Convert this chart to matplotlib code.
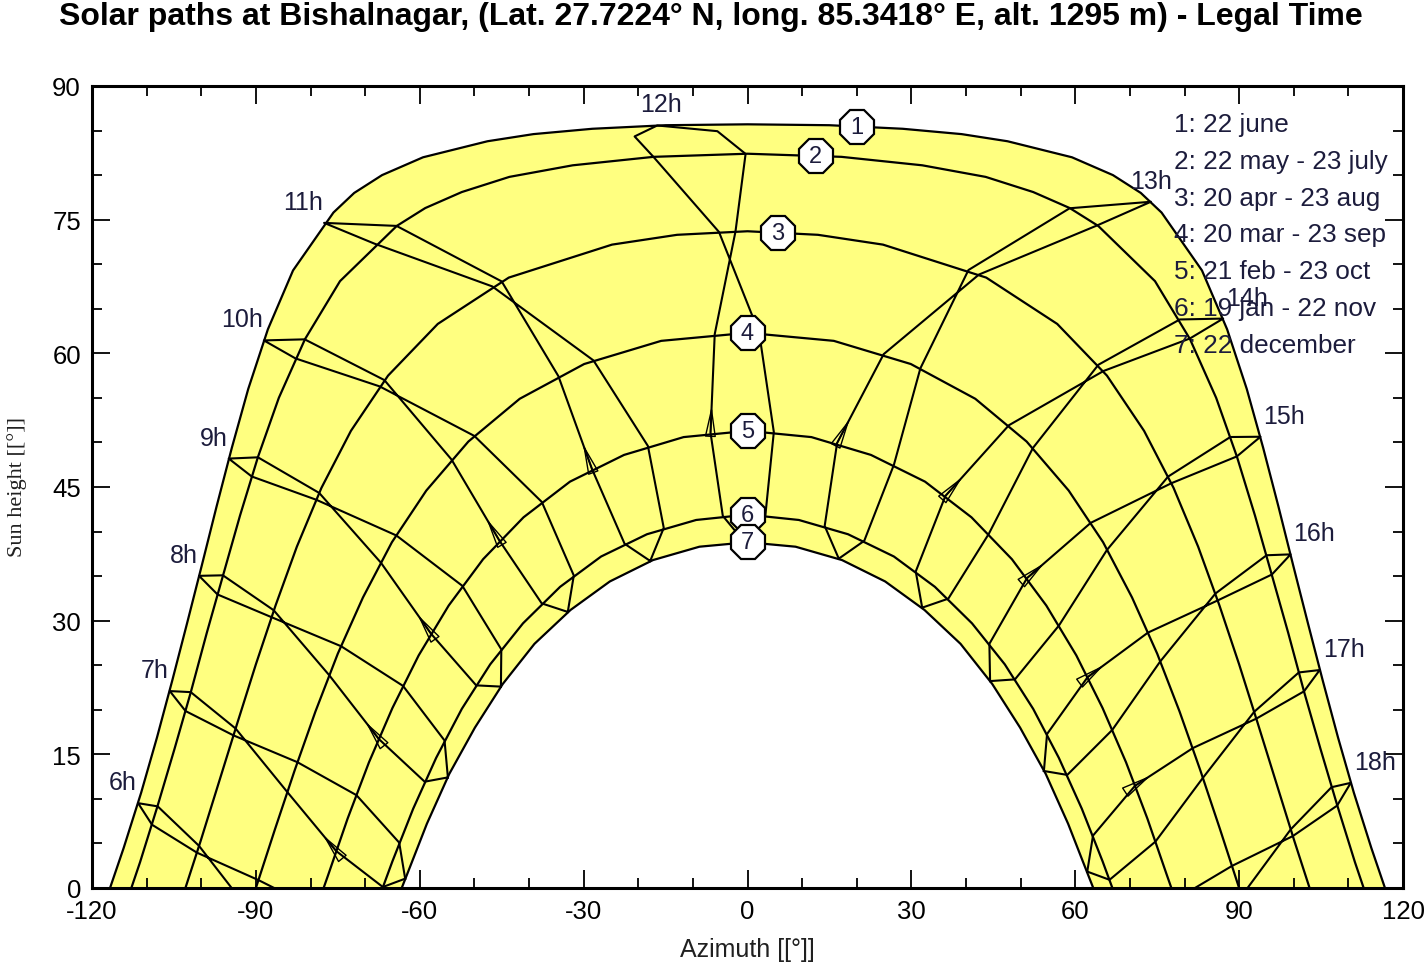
import matplotlib
matplotlib.use("Agg")
import matplotlib.pyplot as plt
import numpy as np
from matplotlib.ticker import MultipleLocator

# ---- date curves: azimuth [deg] / sun height [deg] ----
c1_az = [-116.7, -114.2, -111.0, -108.1, -105.3, -102.6, -99.9, -97.2, -94.4, -91.4, -87.8, -83.2, -75.8, -72.0, -66.9,
         -59.4, -47.6, -39.2, -28.4, -15.0, 0.0, 15.0, 28.4, 39.2, 47.6, 59.4, 66.9, 72.0, 75.8, 83.2, 87.8, 91.4, 94.4,
         97.2, 99.9, 102.6, 105.3, 108.1, 111.0, 114.2, 116.7]
c1_h = [0.0, 4.5, 10.7, 16.9, 23.3, 29.7, 36.2, 42.8, 49.4, 56.0, 62.7, 69.3, 75.8, 78.0, 80.0, 82.0, 83.8, 84.6, 85.2,
        85.6, 85.7, 85.6, 85.2, 84.6, 83.8, 82.0, 80.0, 78.0, 75.8, 69.3, 62.7, 56.0, 49.4, 42.8, 36.2, 29.7, 23.3, 16.9,
        10.7, 4.5, 0.0]
c2_az = [-112.8, -111.2, -108.0, -104.9, -101.9, -99.0, -96.0, -92.9, -89.6, -85.8, -81.0, -74.6, -64.2, -59.0, -52.3,
         -43.6, -32.0, -17.2, 0.0, 17.2, 32.0, 43.6, 52.3, 59.0, 64.2, 74.6, 81.0, 85.8, 89.6, 92.9, 96.0, 99.0, 101.9,
         104.9, 108.0, 111.2, 112.8]
c2_h = [0.0, 2.9, 9.2, 15.6, 22.0, 28.6, 35.1, 41.8, 48.4, 55.0, 61.6, 68.1, 74.3, 76.3, 78.1, 79.8, 81.1, 82.05, 82.4,
        82.05, 81.1, 79.8, 78.1, 76.3, 74.3, 68.1, 61.6, 55.0, 48.4, 41.8, 35.1, 28.6, 22.0, 15.6, 9.2, 2.9, 0.0]
c3_az = [-102.9, -100.1, -96.8, -93.4, -90.0, -86.4, -82.5, -78.0, -72.6, -65.8, -56.7, -43.7, -24.8, -12.9, 0.0, 12.9,
         24.8, 43.7, 56.7, 65.8, 72.6, 78.0, 82.5, 86.4, 90.0, 93.4, 96.8, 100.1, 102.9]
c3_h = [0.0, 5.3, 11.8, 18.5, 25.1, 31.7, 38.3, 44.9, 51.3, 57.5, 63.3, 68.5, 72.2, 73.3, 73.7, 73.3, 72.2, 68.5, 63.3,
        57.5, 51.3, 44.9, 38.3, 31.7, 25.1, 18.5, 11.8, 5.3, 0.0]
c4_az = [-90.0, -86.5, -82.9, -79.1, -75.0, -70.4, -65.1, -58.8, -51.1, -41.7, -29.9, -15.8, 0.0, 15.8, 29.9, 41.7,
         51.1, 58.8, 65.1, 70.4, 75.0, 79.1, 82.9, 86.5, 90.0]
c4_h = [0.0, 6.6, 13.2, 19.8, 26.3, 32.6, 38.8, 44.6, 50.1, 54.9, 58.8, 61.4, 62.3, 61.4, 58.8, 54.9, 50.1, 44.6, 38.8,
        32.6, 26.3, 19.8, 13.2, 6.6, 0.0]
c5_az = [-77.6, -76.8, -73.2, -69.3, -65.0, -60.2, -54.7, -48.4, -41.0, -32.5, -22.6, -11.7, 0.0, 11.7, 22.6, 32.5,
         41.0, 48.4, 54.7, 60.2, 65.0, 69.3, 73.2, 76.8, 77.6]
c5_h = [0.0, 1.4, 7.8, 14.1, 20.2, 26.1, 31.7, 36.9, 41.6, 45.6, 48.6, 50.6, 51.3, 50.6, 48.6, 45.6, 41.6, 36.9, 31.7,
        26.1, 20.2, 14.1, 7.8, 1.4, 0.0]
c6_az = [-66.8, -65.0, -61.2, -57.0, -52.3, -47.1, -41.1, -34.3, -26.8, -18.4, -9.4, 0.0, 9.4, 18.4, 26.8, 34.3, 41.1,
         47.1, 52.3, 57.0, 61.2, 65.0, 66.8]
c6_h = [0.0, 3.0, 8.9, 14.6, 20.1, 25.1, 29.7, 33.8, 37.2, 39.7, 41.3, 41.9, 41.3, 39.7, 37.2, 33.8, 29.7, 25.1, 20.1,
        14.6, 8.9, 3.0, 0.0]
c7_az = [-63.3, -62.4, -58.7, -54.6, -49.9, -44.8, -39.0, -32.4, -25.2, -17.3, -8.8, 0.0, 8.8, 17.3, 25.2, 32.4, 39.0,
         44.8, 49.9, 54.6, 58.7, 62.4, 63.3]
c7_h = [0.0, 1.4, 7.2, 12.8, 18.0, 22.9, 27.4, 31.2, 34.4, 36.8, 38.3, 38.8, 38.3, 36.8, 34.4, 31.2, 27.4, 22.9, 18.0,
        12.8, 7.2, 1.4, 0.0]

# ---- hour lines (legal time), points: 22 dec, 19 jan, 21 feb, 20 mar, 20 apr, 22 may, 22 jun,
#      23 jul, 23 aug, 23 sep, 23 oct, 22 nov, 22 dec ----
h06_az = [-91.30, -100.41, -107.97, -111.56, -109.01, -100.80, -89.53, -78.84]   # mar .. oct only
h06_h = [-2.48, 4.73, 9.16, 9.52, 7.10, 3.97, 0.89, -2.41]
h07_az = [-62.67, -66.75, -75.28, -84.26, -93.72, -101.92, -105.76, -102.88, -94.11, -82.40, -71.59, -63.76, -62.67]
h07_h = [1.05, 0.11, 4.14, 10.78, 17.90, 21.98, 22.10, 19.86, 17.13, 14.12, 10.42, 5.09, 1.05]
h08_az = [-54.85, -59.10, -67.49, -76.56, -86.74, -96.04, -100.40, -97.02, -87.17, -74.39, -63.06, -55.46, -54.85]
h08_h = [12.41, 11.93, 16.72, 23.87, 31.17, 35.09, 35.03, 32.94, 30.40, 27.13, 22.68, 16.55, 12.41]
h09_az = [-45.14, -49.67, -57.93, -67.09, -78.40, -89.62, -94.97, -90.76, -78.95, -64.28, -52.20, -45.07, -45.14]
h09_h = [22.60, 22.74, 28.53, 36.49, 44.33, 48.33, 48.19, 46.18, 43.57, 39.56, 33.91, 26.78, 22.60]
h10_az = [-32.90, -37.67, -45.40, -54.18, -66.48, -81.07, -88.54, -82.75, -67.34, -50.00, -37.65, -31.80, -32.90]
h10_h = [30.98, 31.94, 38.97, 48.08, 57.00, 61.57, 61.45, 59.43, 56.29, 50.73, 43.32, 35.07, 30.98]
h11_az = [-17.81, -22.50, -28.45, -34.62, -45.00, -64.25, -77.52, -68.30, -46.72, -28.19, -18.23, -15.33, -17.81]
h11_h = [36.70, 38.63, 46.99, 57.44, 68.07, 74.30, 74.64, 72.31, 67.51, 59.20, 49.60, 40.41, 36.70]
# 12h also has 6 jun and 8 jul, the loop is wide near the zenith
h12_az = [-0.59, -4.52, -6.77, -6.00, -2.20, -0.35, -5.52, -16.52, -20.67, -17.22, -5.22, 2.15, 4.82, 3.27, -0.59]
h12_h = [38.84, 41.76, 51.10, 62.15, 73.67, 82.38, 84.93, 85.57, 84.34, 82.05, 73.62, 62.26, 51.17, 41.82, 38.84]
h13_az = [16.71, 14.13, 16.40, 24.93, 42.37, 64.07, 73.85, 58.98, 40.45, 31.65, 26.81, 21.37, 16.71]
h13_h = [36.96, 40.63, 49.93, 59.91, 68.84, 74.37, 77.01, 76.28, 69.35, 58.32, 47.51, 38.96, 36.96]
h14_az = [31.98, 30.80, 36.22, 47.85, 65.18, 81.00, 87.08, 79.14, 64.24, 52.25, 44.17, 36.76, 31.98]
h14_h = [31.46, 35.52, 43.99, 51.93, 58.02, 61.67, 63.90, 63.80, 58.72, 49.38, 39.74, 32.47, 31.46]
h15_az = [44.41, 44.28, 51.16, 62.84, 77.58, 89.58, 93.91, 88.39, 77.00, 65.81, 57.02, 48.96, 44.41]
h15_h = [23.22, 27.40, 34.77, 40.98, 45.42, 48.43, 50.64, 50.61, 46.17, 37.94, 29.46, 23.41, 23.22]
h16_az = [54.26, 54.84, 62.26, 73.31, 86.11, 96.00, 99.42, 95.02, 85.67, 75.54, 66.78, 58.54, 54.26]
h16_h = [13.13, 17.28, 23.66, 28.66, 32.28, 35.18, 37.44, 37.34, 33.05, 25.41, 17.74, 12.69, 13.13]
h17_az = [62.20, 63.25, 70.94, 81.52, 93.16, 101.88, 104.75, 100.93, 92.77, 83.38, 74.67, 66.28, 62.20]
h17_h = [1.84, 5.88, 11.47, 15.70, 19.01, 22.07, 24.46, 24.19, 19.78, 12.37, 5.20, 0.92, 1.84]
h18_az = [78.26, 88.70, 99.84, 107.93, 110.44, 106.91, 99.45, 90.47]   # feb .. sep only
h18_h = [-1.33, 2.48, 5.83, 9.24, 11.80, 11.31, 6.58, -0.89]

hour_names = ["6h", "7h", "8h", "9h", "10h", "11h", "12h", "13h", "14h", "15h", "16h", "17h", "18h"]
legend_labels = ["1: 22 june", "2: 22 may - 23 july", "3: 20 apr - 23 aug", "4: 20 mar - 23 sep",
                 "5: 21 feb - 23 oct", "6: 19 jan - 22 nov", "7: 22 december"]
mark_az = [20.0, 12.5, 5.5, 0.0, 0.0, 0.0, 0.0]

curves = [(c1_az, c1_h), (c2_az, c2_h), (c3_az, c3_h), (c4_az, c4_h), (c5_az, c5_h), (c6_az, c6_h), (c7_az, c7_h)]
loops = [(h06_az, h06_h), (h07_az, h07_h), (h08_az, h08_h), (h09_az, h09_h), (h10_az, h10_h), (h11_az, h11_h),
         (h12_az, h12_h), (h13_az, h13_h), (h14_az, h14_h), (h15_az, h15_h), (h16_az, h16_h), (h17_az, h17_h),
         (h18_az, h18_h)]
# index of the 22 june point in each loop, used for the hour labels
june_idx = [3, 6, 6, 6, 6, 6, 7, 6, 6, 6, 6, 6, 4]

txt = "#1c1c3c"
plt.rcParams['font.family'] = ['Liberation Sans', 'DejaVu Sans']
plt.rcParams['axes.unicode_minus'] = False

fig = plt.figure(figsize=(14.27, 9.70), dpi=100)
ax = fig.add_axes([92 / 1427, 81 / 970, 1311 / 1427, 802 / 970])

# yellow band between 22 june and 22 december
ax.fill(c1_az + c7_az[::-1], c1_h + c7_h[::-1], color="#ffff80", lw=0, zorder=1)

for az, h in curves:
    ax.plot(az, h, color="black", lw=1.6, zorder=3)

for az, h in loops:
    ax.plot(az, h, color="black", lw=1.5, zorder=3)

# small direction arrows on the jan -> jun branch (21 feb point)
for az, h in loops[1:-1]:
    x0, y0 = az[2], h[2]
    x1, y1 = az[3], h[3]
    tip = (x0 + 0.27 * (x1 - x0), y0 + 0.27 * (y1 - y0))
    ax.annotate("", xy=tip, xytext=(x0, y0),
                arrowprops=dict(arrowstyle="-|>,head_length=1.9,head_width=0.35", fc="none", ec="black",
                                lw=1.0, shrinkA=0, shrinkB=0), zorder=4)

# hour labels near the 22 june end of each hour line
for k, (az, h) in enumerate(loops):
    j = june_idx[k]
    name = hour_names[k]
    if k < 6:
        ha, dx = "right", -1
    elif k < 8:
        ha, dx = "center", 4 if k == 6 else 0
    else:
        ha, dx = "left", 3
    ax.annotate(name, xy=(az[j], h[j]), xytext=(dx, 14), textcoords="offset pixels",
                ha=ha, va="baseline", fontsize=18, color=txt, zorder=6)

# numbered date markers
for k, (az, h) in enumerate(curves):
    mx = mark_az[k]
    my = np.interp(mx, az, h)
    ax.plot(mx, my, marker="8", ms=26, mfc="white", mec="black", mew=1.6, ls="none", zorder=7)
    ax.text(mx, my, str(k + 1), ha="center", va="center", fontsize=17, color=txt, zorder=8)

# date legend
for k, lab in enumerate(legend_labels):
    ax.text(78.0, 85.7 - 4.12 * k, lab, ha="left", va="center", fontsize=18.8, color=txt, zorder=9)

ax.set_xlim(-120, 120)
ax.set_ylim(0, 90)
ax.xaxis.set_major_locator(MultipleLocator(30))
ax.xaxis.set_minor_locator(MultipleLocator(10))
ax.yaxis.set_major_locator(MultipleLocator(15))
ax.yaxis.set_minor_locator(MultipleLocator(5))
ax.tick_params(which="both", direction="in", top=True, right=True, width=1.3, labelsize=18.5, colors="black")
ax.tick_params(which="major", length=13, pad=8)
ax.tick_params(which="minor", length=7)
for s in ax.spines.values():
    s.set_linewidth(2.2)

fig.text(711 / 1427, 1 - 17 / 970, "Solar paths at Bishalnagar, (Lat. 27.7224° N, long. 85.3418° E, alt. 1295 m) - Legal Time",
         ha="center", va="center", fontsize=23, fontweight="bold")
fig.text(747 / 1427, 1 - 950 / 970, "Azimuth [[°]]", ha="center", va="center", fontsize=18, color="#202020")
fig.text(17 / 1427, 1 - 487 / 970, "Sun height [[°]]", ha="center", va="center", rotation=90, fontsize=16,
         family=["Liberation Serif", "DejaVu Serif"], color="#202020")

fig.savefig("out.png", dpi=100)
